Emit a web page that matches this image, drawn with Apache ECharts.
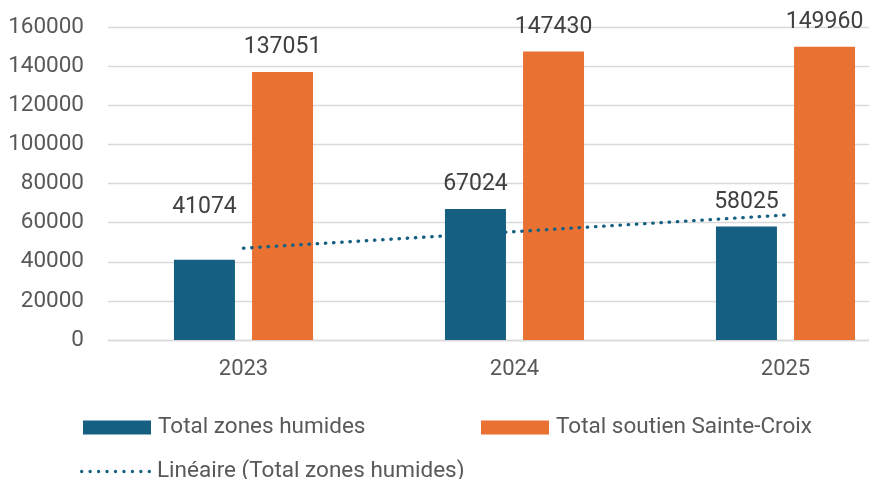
<!DOCTYPE html>
<html>
<head>
<meta charset="utf-8">
<script src="https://cdn.jsdelivr.net/npm/echarts@6/dist/echarts.min.js"></script>
<style>html,body{margin:0;padding:0;background:#fff;overflow:hidden;width:869px;height:479px;}#c{width:930px;height:479px;}</style>
</head>
<body>
<div id="c"></div>
<script>
const categories = ['2023', '2024', '2025'];
const zonesHumides = [41074, 67024, 58025];
const soutienSainteCroix = [137051, 147430, 149960];
// Linear trendline values (at each category)
const trendZonesHumides = [46899, 55374, 63850];
const yTicks = { min: 0, max: 160000, interval: 20000 };

const FONT = 'Roboto';
const chart = echarts.init(document.getElementById('c'), null, { renderer: 'canvas' });

const labelStyle = {
  show: true, position: 'top', distance: 13,
  color: '#404040', fontSize: 23, fontFamily: FONT
};

const zhData = zonesHumides.map((v, i) => i === 0
  ? { value: v, label: { offset: [0, -28] } }
  : v);

// dotted legend icon
let dotPath = 'path://';
for (let i = 0; i < 9; i++) {
  const cx = 1.7 + i * 8.45;
  dotPath += 'M' + (cx - 1.7) + ',1.7a1.7,1.7 0 1,0 3.4,0a1.7,1.7 0 1,0 -3.4,0Z';
}

const legendText = { color: '#595959', fontSize: 22.5, fontFamily: FONT, padding: [0, 0, 0, 2] };

chart.setOption({
  animation: false,
  textStyle: { fontFamily: FONT },
  grid: { left: 108, top: 27, width: 813, height: 313, containLabel: false },
  legend: [
    {
      data: ['Total zones humides'], left: 83, top: 416, padding: 0, itemWidth: 68, itemHeight: 14,
      icon: 'rect', textStyle: legendText
    },
    {
      data: ['Total soutien Sainte-Croix'], left: 481, top: 416, padding: 0, itemWidth: 68, itemHeight: 14,
      icon: 'rect', textStyle: legendText
    },
    {
      data: [{ name: 'Linéaire (Total zones humides)', icon: dotPath, itemStyle: { color: '#156082' } }],
      left: 80, top: 460, padding: 0, itemWidth: 71, itemHeight: 14,
      textStyle: Object.assign({}, legendText, { padding: [0, 0, 0, 1] })
    }
  ],
  xAxis: {
    type: 'category', data: categories,
    axisLine: { lineStyle: { color: '#d9d9d9', width: 1.3 } },
    axisTick: { show: false },
    axisLabel: { color: '#595959', fontSize: 22, fontFamily: FONT, margin: 18 }
  },
  yAxis: {
    type: 'value', min: yTicks.min, max: yTicks.max, interval: yTicks.interval,
    axisLine: { show: false }, axisTick: { show: false },
    splitLine: { lineStyle: { color: '#d9d9d9', width: 1.3 } },
    axisLabel: { color: '#595959', fontSize: 22.5, fontFamily: FONT, margin: 24, formatter: v => String(v) }
  },
  series: [
    {
      name: 'Total zones humides', type: 'bar', data: zhData,
      barWidth: 61, barGap: '28%',
      itemStyle: { color: '#156082' }, label: labelStyle, z: 2
    },
    {
      name: 'Total soutien Sainte-Croix', type: 'bar', data: soutienSainteCroix,
      barWidth: 61, barGap: '28%',
      itemStyle: { color: '#E97132' }, label: labelStyle, z: 2
    },
    {
      name: 'Linéaire (Total zones humides)', type: 'line', data: trendZonesHumides,
      symbol: 'none', z: 5,
      lineStyle: { color: '#156082', width: 3.3, type: [0.5, 7.7], cap: 'round' },
      itemStyle: { color: '#156082' }
    }
  ]
});
</script>
</body>
</html>
